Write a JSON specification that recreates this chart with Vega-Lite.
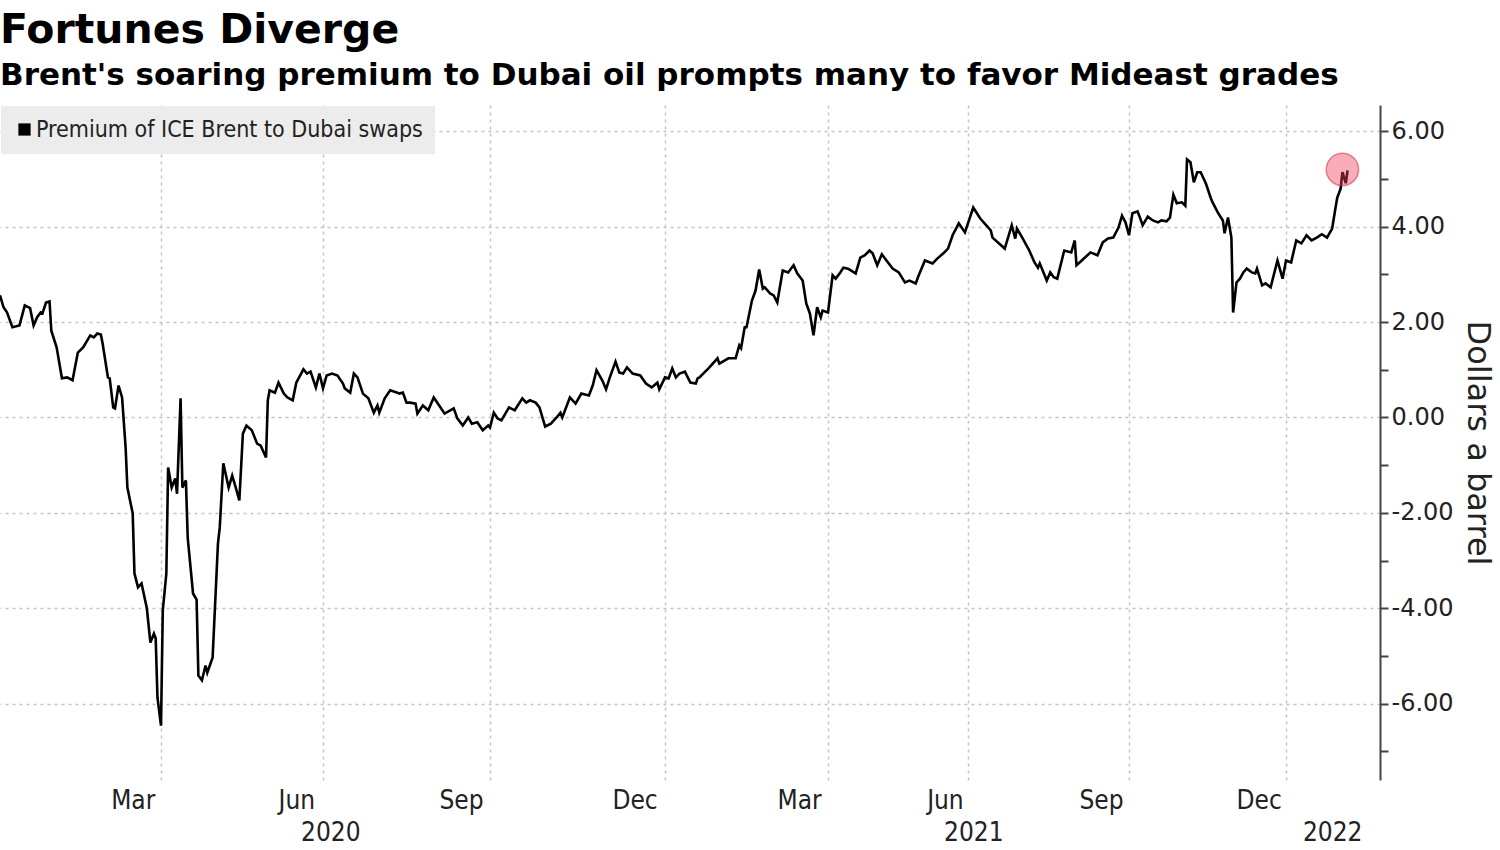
{
  "$schema": "https://vega.github.io/schema/vega-lite/v6.json",
  "width": 1380,
  "height": 675,
  "autosize": {"type": "none"},
  "padding": {"left": 0, "top": 105, "right": 120, "bottom": 70},
  "background": "#ffffff",
  "title": {
    "text": "Fortunes Diverge",
    "subtitle": "Brent's soaring premium to Dubai oil prompts many to favor Mideast grades",
    "anchor": "start",
    "frame": "group",
    "font": "DejaVu Sans",
    "fontSize": 41,
    "fontWeight": "bold",
    "color": "#000000",
    "subtitleFont": "DejaVu Sans",
    "subtitleFontSize": 31,
    "subtitleFontWeight": "bold",
    "subtitleColor": "#000000",
    "subtitlePadding": 9,
    "offset": 13
  },
  "data": {
    "values": [
      {"date": "2020-01-01", "value": 2.56}, {"date": "2020-01-03", "value": 2.31}, {"date": "2020-01-05", "value": 2.20},
      {"date": "2020-01-08", "value": 1.89}, {"date": "2020-01-12", "value": 1.93}, {"date": "2020-01-15", "value": 2.35},
      {"date": "2020-01-18", "value": 2.29}, {"date": "2020-01-20", "value": 1.93}, {"date": "2020-01-22", "value": 2.10},
      {"date": "2020-01-24", "value": 2.20}, {"date": "2020-01-25", "value": 2.18}, {"date": "2020-01-27", "value": 2.41},
      {"date": "2020-01-29", "value": 2.43}, {"date": "2020-01-30", "value": 1.82}, {"date": "2020-02-02", "value": 1.47},
      {"date": "2020-02-05", "value": 0.82}, {"date": "2020-02-08", "value": 0.84}, {"date": "2020-02-11", "value": 0.78},
      {"date": "2020-02-14", "value": 1.36}, {"date": "2020-02-17", "value": 1.47}, {"date": "2020-02-21", "value": 1.72},
      {"date": "2020-02-23", "value": 1.68}, {"date": "2020-02-25", "value": 1.76}, {"date": "2020-02-27", "value": 1.74},
      {"date": "2020-02-28", "value": 1.55}, {"date": "2020-03-02", "value": 0.84}, {"date": "2020-03-03", "value": 0.82},
      {"date": "2020-03-05", "value": 0.21}, {"date": "2020-03-06", "value": 0.19}, {"date": "2020-03-08", "value": 0.67},
      {"date": "2020-03-10", "value": 0.42}, {"date": "2020-03-12", "value": -0.63}, {"date": "2020-03-13", "value": -1.47},
      {"date": "2020-03-16", "value": -2.01}, {"date": "2020-03-17", "value": -3.27}, {"date": "2020-03-19", "value": -3.56},
      {"date": "2020-03-21", "value": -3.48}, {"date": "2020-03-24", "value": -4.00}, {"date": "2020-03-26", "value": -4.72},
      {"date": "2020-03-28", "value": -4.53}, {"date": "2020-03-29", "value": -4.63}, {"date": "2020-03-30", "value": -5.87},
      {"date": "2020-04-01", "value": -6.46}, {"date": "2020-04-02", "value": -4.05}, {"date": "2020-04-04", "value": -3.27},
      {"date": "2020-04-05", "value": -1.05}, {"date": "2020-04-07", "value": -1.47}, {"date": "2020-04-09", "value": -1.28},
      {"date": "2020-04-10", "value": -1.60}, {"date": "2020-04-12", "value": 0.40}, {"date": "2020-04-13", "value": -1.47},
      {"date": "2020-04-15", "value": -1.32}, {"date": "2020-04-16", "value": -2.52}, {"date": "2020-04-19", "value": -3.69},
      {"date": "2020-04-21", "value": -3.82}, {"date": "2020-04-22", "value": -5.41}, {"date": "2020-04-24", "value": -5.51},
      {"date": "2020-04-26", "value": -5.20}, {"date": "2020-04-27", "value": -5.35}, {"date": "2020-04-30", "value": -5.03},
      {"date": "2020-05-03", "value": -2.64}, {"date": "2020-05-04", "value": -2.31}, {"date": "2020-05-06", "value": -0.96},
      {"date": "2020-05-09", "value": -1.47}, {"date": "2020-05-11", "value": -1.22}, {"date": "2020-05-13", "value": -1.47},
      {"date": "2020-05-15", "value": -1.74}, {"date": "2020-05-17", "value": -0.34}, {"date": "2020-05-19", "value": -0.17},
      {"date": "2020-05-22", "value": -0.27}, {"date": "2020-05-25", "value": -0.55}, {"date": "2020-05-27", "value": -0.59},
      {"date": "2020-05-30", "value": -0.84}, {"date": "2020-05-31", "value": 0.36}, {"date": "2020-06-01", "value": 0.57},
      {"date": "2020-06-04", "value": 0.52}, {"date": "2020-06-06", "value": 0.73}, {"date": "2020-06-09", "value": 0.50},
      {"date": "2020-06-11", "value": 0.42}, {"date": "2020-06-14", "value": 0.36}, {"date": "2020-06-16", "value": 0.73},
      {"date": "2020-06-20", "value": 1.01}, {"date": "2020-06-22", "value": 0.92}, {"date": "2020-06-24", "value": 0.96},
      {"date": "2020-06-27", "value": 0.63}, {"date": "2020-06-29", "value": 0.92}, {"date": "2020-07-01", "value": 0.61},
      {"date": "2020-07-03", "value": 0.88}, {"date": "2020-07-06", "value": 0.92}, {"date": "2020-07-09", "value": 0.88},
      {"date": "2020-07-12", "value": 0.71}, {"date": "2020-07-13", "value": 0.61}, {"date": "2020-07-16", "value": 0.52},
      {"date": "2020-07-18", "value": 0.92}, {"date": "2020-07-20", "value": 0.84}, {"date": "2020-07-23", "value": 0.50},
      {"date": "2020-07-26", "value": 0.40}, {"date": "2020-07-29", "value": 0.10}, {"date": "2020-07-31", "value": 0.25},
      {"date": "2020-08-01", "value": 0.10}, {"date": "2020-08-04", "value": 0.40}, {"date": "2020-08-07", "value": 0.57},
      {"date": "2020-08-11", "value": 0.52}, {"date": "2020-08-12", "value": 0.50}, {"date": "2020-08-14", "value": 0.52},
      {"date": "2020-08-16", "value": 0.31}, {"date": "2020-08-18", "value": 0.31}, {"date": "2020-08-21", "value": 0.29},
      {"date": "2020-08-22", "value": 0.08}, {"date": "2020-08-25", "value": 0.25}, {"date": "2020-08-28", "value": 0.15},
      {"date": "2020-08-31", "value": 0.42}, {"date": "2020-09-03", "value": 0.25}, {"date": "2020-09-06", "value": 0.08},
      {"date": "2020-09-11", "value": 0.19}, {"date": "2020-09-13", "value": -0.02}, {"date": "2020-09-16", "value": -0.17},
      {"date": "2020-09-19", "value": 0.00}, {"date": "2020-09-21", "value": -0.13}, {"date": "2020-09-24", "value": -0.10},
      {"date": "2020-09-27", "value": -0.27}, {"date": "2020-09-30", "value": -0.17}, {"date": "2020-10-01", "value": -0.21},
      {"date": "2020-10-03", "value": 0.10}, {"date": "2020-10-05", "value": -0.02}, {"date": "2020-10-07", "value": -0.06},
      {"date": "2020-10-11", "value": 0.21}, {"date": "2020-10-14", "value": 0.15}, {"date": "2020-10-18", "value": 0.40},
      {"date": "2020-10-20", "value": 0.31}, {"date": "2020-10-22", "value": 0.36}, {"date": "2020-10-25", "value": 0.31},
      {"date": "2020-10-27", "value": 0.21}, {"date": "2020-10-30", "value": -0.19}, {"date": "2020-11-02", "value": -0.13},
      {"date": "2020-11-05", "value": 0.00}, {"date": "2020-11-07", "value": 0.10}, {"date": "2020-11-08", "value": 0.00},
      {"date": "2020-11-12", "value": 0.42}, {"date": "2020-11-15", "value": 0.29}, {"date": "2020-11-18", "value": 0.50},
      {"date": "2020-11-22", "value": 0.46}, {"date": "2020-11-24", "value": 0.67}, {"date": "2020-11-26", "value": 0.99},
      {"date": "2020-11-29", "value": 0.78}, {"date": "2020-12-01", "value": 0.59}, {"date": "2020-12-03", "value": 0.84},
      {"date": "2020-12-06", "value": 1.17}, {"date": "2020-12-08", "value": 0.94}, {"date": "2020-12-10", "value": 0.92},
      {"date": "2020-12-12", "value": 1.05}, {"date": "2020-12-15", "value": 0.92}, {"date": "2020-12-19", "value": 0.88},
      {"date": "2020-12-22", "value": 0.71}, {"date": "2020-12-25", "value": 0.63}, {"date": "2020-12-28", "value": 0.73},
      {"date": "2020-12-29", "value": 0.59}, {"date": "2021-01-01", "value": 0.84}, {"date": "2021-01-03", "value": 0.82},
      {"date": "2021-01-05", "value": 1.03}, {"date": "2021-01-07", "value": 0.84}, {"date": "2021-01-09", "value": 0.92},
      {"date": "2021-01-12", "value": 0.96}, {"date": "2021-01-15", "value": 0.73}, {"date": "2021-01-18", "value": 0.71},
      {"date": "2021-01-19", "value": 0.82}, {"date": "2021-01-20", "value": 0.84}, {"date": "2021-01-25", "value": 1.03},
      {"date": "2021-01-30", "value": 1.24}, {"date": "2021-01-31", "value": 1.13}, {"date": "2021-02-05", "value": 1.24},
      {"date": "2021-02-09", "value": 1.24}, {"date": "2021-02-11", "value": 1.51}, {"date": "2021-02-12", "value": 1.45},
      {"date": "2021-02-14", "value": 1.89}, {"date": "2021-02-15", "value": 1.89}, {"date": "2021-02-18", "value": 2.45},
      {"date": "2021-02-20", "value": 2.66}, {"date": "2021-02-22", "value": 3.10}, {"date": "2021-02-24", "value": 2.70},
      {"date": "2021-02-25", "value": 2.73}, {"date": "2021-02-28", "value": 2.60}, {"date": "2021-03-02", "value": 2.56},
      {"date": "2021-03-04", "value": 2.41}, {"date": "2021-03-07", "value": 3.08}, {"date": "2021-03-10", "value": 3.04},
      {"date": "2021-03-13", "value": 3.19}, {"date": "2021-03-15", "value": 3.02}, {"date": "2021-03-18", "value": 2.87},
      {"date": "2021-03-20", "value": 2.39}, {"date": "2021-03-22", "value": 2.18}, {"date": "2021-03-24", "value": 1.72},
      {"date": "2021-03-26", "value": 2.31}, {"date": "2021-03-28", "value": 2.10}, {"date": "2021-03-29", "value": 2.24},
      {"date": "2021-04-01", "value": 2.20}, {"date": "2021-04-04", "value": 2.98}, {"date": "2021-04-06", "value": 2.91},
      {"date": "2021-04-09", "value": 3.04}, {"date": "2021-04-11", "value": 3.14}, {"date": "2021-04-14", "value": 3.12},
      {"date": "2021-04-19", "value": 3.02}, {"date": "2021-04-22", "value": 3.35}, {"date": "2021-04-25", "value": 3.40},
      {"date": "2021-04-28", "value": 3.50}, {"date": "2021-04-30", "value": 3.44}, {"date": "2021-05-03", "value": 3.19},
      {"date": "2021-05-06", "value": 3.42}, {"date": "2021-05-09", "value": 3.29}, {"date": "2021-05-13", "value": 3.12},
      {"date": "2021-05-17", "value": 3.04}, {"date": "2021-05-21", "value": 2.83}, {"date": "2021-05-24", "value": 2.87},
      {"date": "2021-05-28", "value": 2.81}, {"date": "2021-05-30", "value": 2.98}, {"date": "2021-06-03", "value": 3.29},
      {"date": "2021-06-08", "value": 3.23}, {"date": "2021-06-11", "value": 3.33}, {"date": "2021-06-15", "value": 3.44},
      {"date": "2021-06-18", "value": 3.54}, {"date": "2021-06-21", "value": 3.82}, {"date": "2021-06-25", "value": 4.07},
      {"date": "2021-06-29", "value": 3.88}, {"date": "2021-07-04", "value": 4.40}, {"date": "2021-07-08", "value": 4.17},
      {"date": "2021-07-14", "value": 3.92}, {"date": "2021-07-15", "value": 3.77}, {"date": "2021-07-22", "value": 3.54},
      {"date": "2021-07-26", "value": 4.03}, {"date": "2021-07-28", "value": 3.75}, {"date": "2021-07-29", "value": 3.96},
      {"date": "2021-08-01", "value": 3.77}, {"date": "2021-08-05", "value": 3.50}, {"date": "2021-08-08", "value": 3.25},
      {"date": "2021-08-10", "value": 3.14}, {"date": "2021-08-11", "value": 3.23}, {"date": "2021-08-15", "value": 2.87},
      {"date": "2021-08-17", "value": 3.04}, {"date": "2021-08-19", "value": 2.94}, {"date": "2021-08-21", "value": 2.91},
      {"date": "2021-08-25", "value": 3.50}, {"date": "2021-08-29", "value": 3.46}, {"date": "2021-08-31", "value": 3.71},
      {"date": "2021-09-01", "value": 3.19}, {"date": "2021-09-04", "value": 3.29}, {"date": "2021-09-09", "value": 3.46},
      {"date": "2021-09-13", "value": 3.40}, {"date": "2021-09-16", "value": 3.67}, {"date": "2021-09-19", "value": 3.75},
      {"date": "2021-09-22", "value": 3.77}, {"date": "2021-09-25", "value": 3.98}, {"date": "2021-09-27", "value": 4.23},
      {"date": "2021-09-29", "value": 4.09}, {"date": "2021-10-01", "value": 3.82}, {"date": "2021-10-03", "value": 4.28},
      {"date": "2021-10-06", "value": 4.32}, {"date": "2021-10-07", "value": 4.23}, {"date": "2021-10-09", "value": 4.03},
      {"date": "2021-10-12", "value": 4.21}, {"date": "2021-10-15", "value": 4.13}, {"date": "2021-10-18", "value": 4.09},
      {"date": "2021-10-20", "value": 4.13}, {"date": "2021-10-23", "value": 4.11}, {"date": "2021-10-25", "value": 4.19},
      {"date": "2021-10-27", "value": 4.67}, {"date": "2021-10-29", "value": 4.49}, {"date": "2021-11-01", "value": 4.51},
      {"date": "2021-11-03", "value": 4.44}, {"date": "2021-11-04", "value": 5.41}, {"date": "2021-11-06", "value": 5.35},
      {"date": "2021-11-08", "value": 4.93}, {"date": "2021-11-10", "value": 5.14}, {"date": "2021-11-12", "value": 5.14},
      {"date": "2021-11-15", "value": 4.91}, {"date": "2021-11-18", "value": 4.59}, {"date": "2021-11-19", "value": 4.51},
      {"date": "2021-11-22", "value": 4.30}, {"date": "2021-11-25", "value": 4.13}, {"date": "2021-11-26", "value": 3.86},
      {"date": "2021-11-28", "value": 4.19}, {"date": "2021-11-30", "value": 3.77}, {"date": "2021-12-01", "value": 2.20},
      {"date": "2021-12-03", "value": 2.83}, {"date": "2021-12-05", "value": 2.91}, {"date": "2021-12-07", "value": 3.04},
      {"date": "2021-12-09", "value": 3.12}, {"date": "2021-12-12", "value": 3.04}, {"date": "2021-12-14", "value": 3.02},
      {"date": "2021-12-15", "value": 3.12}, {"date": "2021-12-18", "value": 2.77}, {"date": "2021-12-20", "value": 2.81},
      {"date": "2021-12-23", "value": 2.73}, {"date": "2021-12-27", "value": 3.29}, {"date": "2021-12-30", "value": 2.91},
      {"date": "2022-01-01", "value": 3.29}, {"date": "2022-01-04", "value": 3.25}, {"date": "2022-01-07", "value": 3.71},
      {"date": "2022-01-10", "value": 3.65}, {"date": "2022-01-13", "value": 3.82}, {"date": "2022-01-16", "value": 3.71},
      {"date": "2022-01-19", "value": 3.77}, {"date": "2022-01-22", "value": 3.84}, {"date": "2022-01-25", "value": 3.77},
      {"date": "2022-01-28", "value": 3.96}, {"date": "2022-01-30", "value": 4.40}, {"date": "2022-01-31", "value": 4.61},
      {"date": "2022-02-02", "value": 4.80}, {"date": "2022-02-03", "value": 5.14}, {"date": "2022-02-05", "value": 4.91},
      {"date": "2022-02-06", "value": 5.18}
    ]
  },
  "encoding": {
    "x": {
      "field": "date",
      "type": "temporal",
      "title": null,
      "scale": {
        "type": "utc",
        "nice": false,
        "domain": [1577836800000, 1645747200000],
        "domainRaw": {"expr": "[1577836800000, 1585699200000, 1593561600000, 1601510400000, 1609459200000, 1617235200000, 1625097600000, 1633046400000, 1640995200000, 1645747200000]"},
        "range": [0, 161, 323, 490, 665, 828, 968, 1129, 1286, 1380]
      },
      "axis": {
        "values": [
          {"year": 2020, "month": 4, "date": 1, "utc": true},
          {"year": 2020, "month": 7, "date": 1, "utc": true},
          {"year": 2020, "month": 10, "date": 1, "utc": true},
          {"year": 2021, "month": 1, "date": 1, "utc": true},
          {"year": 2021, "month": 4, "date": 1, "utc": true},
          {"year": 2021, "month": 7, "date": 1, "utc": true},
          {"year": 2021, "month": 10, "date": 1, "utc": true},
          {"year": 2022, "month": 1, "date": 1, "utc": true},
          {"year": 2020, "month": 3, "date": 16, "utc": true},
          {"year": 2020, "month": 6, "date": 16, "utc": true},
          {"year": 2020, "month": 9, "date": 15, "utc": true},
          {"year": 2020, "month": 12, "date": 16, "utc": true},
          {"year": 2021, "month": 3, "date": 16, "utc": true},
          {"year": 2021, "month": 6, "date": 16, "utc": true},
          {"year": 2021, "month": 9, "date": 15, "utc": true},
          {"year": 2021, "month": 12, "date": 16, "utc": true},
          {"year": 2020, "month": 7, "date": 5, "utc": true},
          {"year": 2021, "month": 7, "date": 4, "utc": true},
          {"year": 2022, "month": 1, "date": 28, "utc": true}
        ],
        "labelExpr": "utcdate(datum.value) == 1 ? '' : ((utcdate(datum.value) < 10 || utcdate(datum.value) > 20) ? ['', utcFormat(datum.value, '%Y')] : utcFormat(datum.value, '%b'))",
        "grid": true,
        "gridColor": "#c4c4c4",
        "gridDash": [3, 4],
        "gridWidth": 1.5,
        "gridOpacity": {"condition": {"test": "utcdate(datum.value) != 1", "value": 0}, "value": 1},
        "ticks": false,
        "domain": false,
        "labelFont": "DejaVu Sans Condensed",
        "labelFontSize": 26,
        "labelColor": "#222222",
        "labelPadding": 7,
        "labelLineHeight": 32,
        "labelOverlap": false,
        "labelFlush": false,
        "labelBound": false
      }
    },
    "y": {
      "field": "value",
      "type": "quantitative",
      "title": "Dollars a barrel",
      "scale": {"domain": [-7.6, 6.55], "nice": false, "zero": false},
      "axis": {
        "orient": "right",
        "values": [-7, -6, -5, -4, -3, -2, -1, 0, 1, 2, 3, 4, 5, 6],
        "labelExpr": "datum.value % 2 != 0 ? '' : (datum.value < 0 ? '-' : '') + format(abs(datum.value), '.2f')",
        "labelFont": "DejaVu Sans",
        "labelFontSize": 24,
        "labelColor": "#222222",
        "labelPadding": 3,
        "labelOverlap": false,
        "labelFlush": false,
        "labelBound": false,
        "domainColor": "#444444",
        "domainWidth": 2,
        "tickColor": "#444444",
        "tickWidth": 2,
        "tickSize": 8,
        "grid": true,
        "gridColor": "#c4c4c4",
        "gridDash": [3, 4],
        "gridWidth": 1.5,
        "gridOpacity": {"condition": {"test": "datum.value % 2 != 0", "value": 0}, "value": 1},
        "titleFont": "DejaVu Sans",
        "titleFontSize": 32,
        "titleFontWeight": "normal",
        "titleColor": "#222222",
        "titleAngle": 90,
        "titlePadding": 7
      }
    }
  },
  "layer": [
    {
      "mark": {"type": "line", "strokeWidth": 2.6, "interpolate": "linear"},
      "encoding": {
        "color": {
          "datum": "Premium of ICE Brent to Dubai swaps",
          "scale": {"range": ["#000000"]},
          "legend": {
            "title": null,
            "orient": "top-left",
            "offset": 1,
            "fillColor": "#ececec",
            "padding": 12,
            "symbolType": "square",
            "symbolSize": 150,
            "symbolStrokeWidth": 0,
            "symbolFillColor": "#000000",
            "labelFont": "DejaVu Sans Condensed",
            "labelFontSize": 23,
            "labelLimit": 0,
            "labelColor": "#222222",
            "labelOffset": 0,
            "encode": {"symbols": {"update": {"fill": {"value": "#000000"}, "stroke": {"value": "#000000"}, "strokeWidth": {"value": 0}}}}
          }
        }
      }
    },
    {
      "data": {"values": [{"date": "2022-02-03", "value": 5.2}]},
      "mark": {"type": "point", "filled": true, "size": 1050, "fill": "#ee3b55", "fillOpacity": 0.42, "stroke": "#d8304a", "strokeOpacity": 0.55, "strokeWidth": 1.5}
    }
  ],
  "config": {
    "view": {"stroke": null}
  }
}
